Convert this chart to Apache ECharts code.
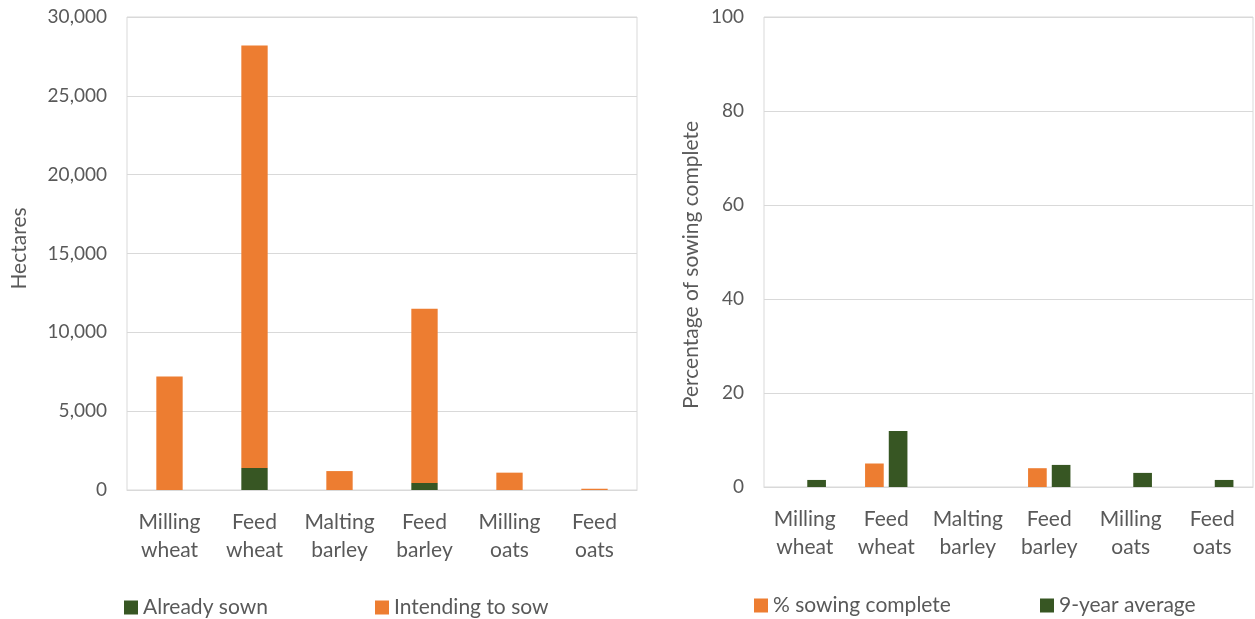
<!DOCTYPE html>
<html>
<head>
<meta charset="utf-8">
<script src="https://cdn.jsdelivr.net/npm/echarts@6/dist/echarts.min.js"></script>
<style>
  html, body { margin: 0; padding: 0; background: #fff; }
  #chart { width: 1255px; height: 619px; }
</style>
</head>
<body>
<div id="chart"></div>
<script>
// Crop categories (shared by both panels)
const categories = ['Milling\nwheat', 'Feed\nwheat', 'Malting\nbarley', 'Feed\nbarley', 'Milling\noats', 'Feed\noats'];

// Left panel: area in hectares
const alreadySown = [0, 1400, 0, 450, 0, 0];
const intendingToSow = [7200, 26800, 1200, 11050, 1100, 80];

// Right panel: percentage of sowing complete
const sowingComplete = [0, 5, 0, 4, 0, 0];
const nineYearAverage = [1.5, 11.9, 0, 4.7, 3, 1.5];

const ORANGE = '#ED7D31';
const GREEN = '#375623';
const TEXT = '#595959';
const GRID = '#d9d9d9';
const FONT = 'Lato';

const chart = echarts.init(document.getElementById('chart'));

const catAxis = (gridIndex) => ({
  type: 'category',
  gridIndex,
  data: categories,
  axisTick: { show: false },
  axisLine: { lineStyle: { color: GRID, width: 1 } },
  axisLabel: { color: TEXT, fontFamily: FONT, fontSize: 21, lineHeight: 28, margin: 18, interval: 0 }
});

const legendText = { color: TEXT, fontFamily: FONT, fontSize: 21 };

chart.setOption({
  animation: false,
  backgroundColor: '#fff',
  grid: [
    { left: 127, right: 618, top: 17, bottom: 129, show: true, borderColor: GRID, borderWidth: 1 },
    { left: 764, right: 2, top: 17, bottom: 132, show: true, borderColor: GRID, borderWidth: 1 }
  ],
  legend: [
    { left: 119, top: 592, icon: 'rect', itemWidth: 14, itemHeight: 14, itemGap: 5, textStyle: legendText, data: ['Already sown'] },
    { left: 370, top: 592, icon: 'rect', itemWidth: 14, itemHeight: 14, textStyle: legendText, data: ['Intending to sow'] },
    { left: 749, top: 590, icon: 'rect', itemWidth: 14, itemHeight: 14, textStyle: legendText, data: ['% sowing complete'] },
    { left: 1035, top: 590, icon: 'rect', itemWidth: 14, itemHeight: 14, textStyle: legendText, data: ['9-year average'] }
  ],
  xAxis: [catAxis(0), catAxis(1)],
  yAxis: [
    {
      type: 'value', gridIndex: 0, min: 0, max: 30000, interval: 5000,
      name: 'Hectares', nameLocation: 'middle', nameGap: 97,
      nameTextStyle: { color: TEXT, fontFamily: FONT, fontSize: 21, padding: [0, 0, 0, 10] },
      axisLabel: {
        color: TEXT, fontFamily: FONT, fontSize: 19, margin: 20,
        formatter: v => v.toLocaleString('en-US')
      },
      axisLine: { show: false }, axisTick: { show: false },
      splitLine: { lineStyle: { color: GRID, width: 1 } }
    },
    {
      type: 'value', gridIndex: 1, min: 0, max: 100, interval: 20,
      name: 'Percentage of sowing complete', nameLocation: 'middle', nameGap: 62,
      nameTextStyle: { color: TEXT, fontFamily: FONT, fontSize: 21, padding: [0, 26, 0, 0] },
      axisLabel: { color: TEXT, fontFamily: FONT, fontSize: 19, margin: 20 },
      axisLine: { show: false }, axisTick: { show: false },
      splitLine: { lineStyle: { color: GRID, width: 1 } }
    }
  ],
  series: [
    {
      name: 'Already sown', type: 'bar', stack: 'area', xAxisIndex: 0, yAxisIndex: 0,
      data: alreadySown, barWidth: '31%', itemStyle: { color: GREEN }
    },
    {
      name: 'Intending to sow', type: 'bar', stack: 'area', xAxisIndex: 0, yAxisIndex: 0,
      data: intendingToSow, barWidth: '31%', itemStyle: { color: ORANGE }
    },
    {
      name: '% sowing complete', type: 'bar', xAxisIndex: 1, yAxisIndex: 1,
      data: sowingComplete, barGap: '27%', barCategoryGap: '48%', itemStyle: { color: ORANGE }
    },
    {
      name: '9-year average', type: 'bar', xAxisIndex: 1, yAxisIndex: 1,
      data: nineYearAverage, barGap: '27%', barCategoryGap: '48%', itemStyle: { color: GREEN }
    }
  ]
});
</script>
</body>
</html>
